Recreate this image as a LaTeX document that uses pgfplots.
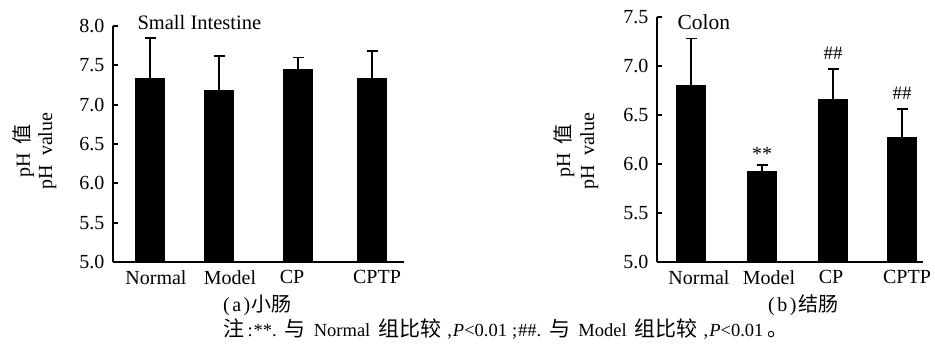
\documentclass[border=0pt]{standalone}
\usepackage{fontspec}
\setmainfont{Liberation Serif}
\newfontfamily\cjk{Noto Sans CJK SC}
\usepackage{pgfplots}
\pgfplotsset{compat=1.18}
\begin{document}
\begin{tikzpicture}[x=1pt,y=1pt]
\useasboundingbox (0,0) rectangle (935,346);
\pgfplotsset{
  myax/.style={
    scale only axis,
    axis x line*=bottom, axis y line*=left,
    axis line style={line width=1.8pt},
    ymin=5,
    ytick distance=0.5,
    yticklabel style={/pgf/number format/fixed, /pgf/number format/fixed zerofill, /pgf/number format/precision=1, xshift=-5pt},
    xticklabel style={yshift=-5pt},
    /pgf/number format/assume math mode=true,
    ticklabel style={font=\fontsize{20}{22}\selectfont},
    major tick length=5pt,
    tick style={line width=1.8pt, black},
    xtick style={draw=none},
    tick align=inside,
    clip=false,
  },
  mybar/.style={
    ybar, bar width=29, fill=black, draw=black, line width=1pt,
    error bars/.cd, y dir=plus, y explicit,
    error bar style={line width=1.8pt, black},
    error mark options={line width=1.8pt, black, mark size=5.5pt, rotate=90},
  }
}
% Small intestine
\begin{axis}[myax, at={(113pt,84pt)}, anchor=south west,
  width=291pt, height=236pt, xmin=113, xmax=404, ymax=8,
  xtick={156,230,292,377}, xticklabels={Normal,Model,CP,CPTP}]
\addplot[mybar] coordinates {
  (150,7.33) +- (0,0.52)
  (219,7.18) +- (0,0.44)
  (298,7.45) +- (0,0.15)
  (372,7.33) +- (0,0.35)
};
\node[anchor=west, font=\fontsize{20.5}{22}\selectfont] at (axis cs:134,8.05) {Small Intestine};
\end{axis}
% Colon
\begin{axis}[myax, at={(657pt,84pt)}, anchor=south west,
  width=266pt, height=245pt, xmin=657, xmax=923, ymax=7.5,
  xtick={699,769,831,907}, xticklabels={Normal,Model,CP,CPTP}]
\addplot[mybar] coordinates {
  (691,6.80) +- (0,0.48)
  (762,5.92) +- (0,0.07)
  (833,6.66) +- (0,0.31)
  (902,6.27) +- (0,0.29)
};
\node[anchor=west, font=\fontsize{21.5}{23}\selectfont] at (axis cs:674,7.45) {Colon};
\node[font=\fontsize{20}{22}\selectfont] at (axis cs:762,6.10) {**};
\node[font=\fontsize{19}{21}\selectfont] at (axis cs:833,7.13) {\#\#};
\node[font=\fontsize{19}{21}\selectfont] at (axis cs:902,6.72) {\#\#};
\end{axis}
% y labels
\node[rotate=90, anchor=base, inner sep=0pt, font=\fontsize{20}{22}\selectfont] at (30,195) {pH\hspace{0.4em}{\cjk 值}};
\node[rotate=90, anchor=base, inner sep=0pt, font=\fontsize{20}{22}\selectfont] at (52,195) {pH\hspace{0.45em}value};
\node[rotate=90, anchor=base, inner sep=0pt, font=\fontsize{20}{22}\selectfont] at (570,195) {pH\hspace{0.4em}{\cjk 值}};
\node[rotate=90, anchor=base, inner sep=0pt, font=\fontsize{20}{22}\selectfont] at (594,195) {pH\hspace{0.45em}value};
% captions
\node[anchor=base west, inner sep=0pt, font=\fontsize{20}{22}\selectfont] at (223,35) {(\kern2.5pt a\kern2.5pt)\kern1.5pt{\cjk 小肠}};
\node[anchor=base west, inner sep=0pt, font=\fontsize{20}{22}\selectfont] at (768,35) {(\kern2.5pt b\kern2.5pt)\kern1.5pt{\cjk 结肠}};
% note
\node[anchor=base, inner sep=0pt, font=\fontsize{18.5}{20}\selectfont] at (506,10) {{\fontsize{21}{22}\selectfont\cjk 注}\kern3pt:\kern1pt**.\kern8pt{\fontsize{21}{22}\selectfont\cjk 与}\kern8pt Normal\kern8pt{\fontsize{21}{22}\selectfont\cjk 组比较}\kern6pt,\kern1pt\textit{P}<0.01\kern5pt;\kern1pt\#\#.\kern8pt{\fontsize{21}{22}\selectfont\cjk 与}\kern8pt Model\kern8pt{\fontsize{21}{22}\selectfont\cjk 组比较}\kern6pt,\kern1pt\textit{P}<0.01\kern4pt{\fontsize{21}{22}\selectfont\cjk 。}};
\end{tikzpicture}
\end{document}
